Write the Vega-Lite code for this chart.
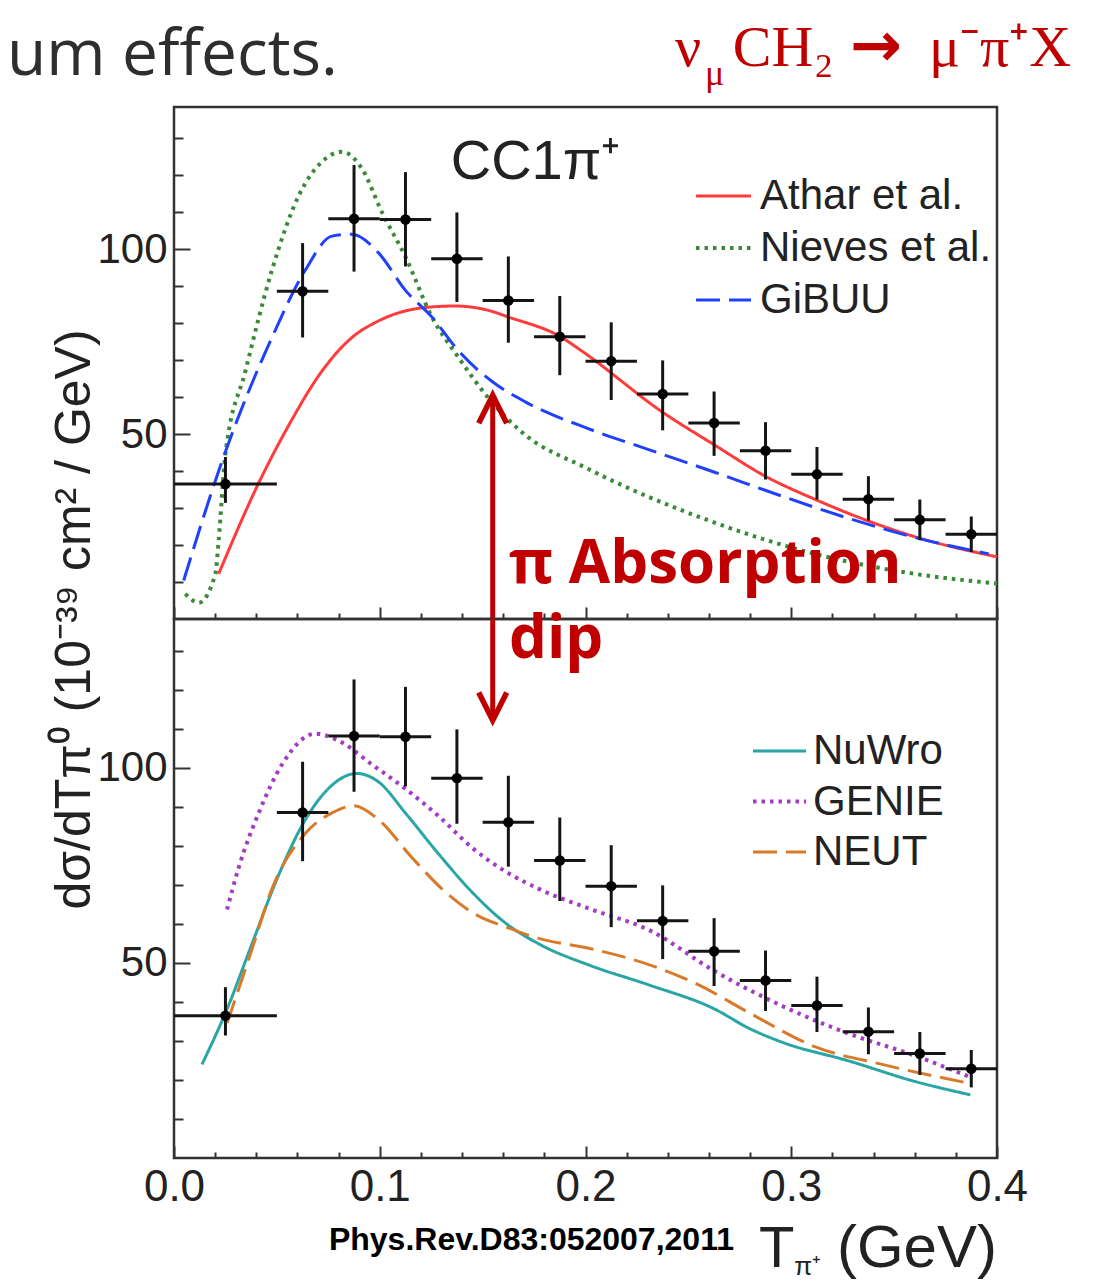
{
  "$schema": "https://vega.github.io/schema/vega-lite/v6.json",
  "padding": {"left": 5, "top": 14, "right": 0, "bottom": 0},
  "background": "white",
  "spacing": 0,
  "bounds": "flush",
  "config": {
    "view": {"stroke": "#333", "strokeWidth": 2.5},
    "axis": {"domain": false, "grid": false, "labelFont": "Liberation Sans", "labelColor": "#222", "tickColor": "#333", "tickWidth": 2, "labelOverlap": false, "labelFlush": false},
    "text": {"font": "Liberation Sans"}
  },
  "datasets": {
    "points": [
      {"T": 0.025, "xsec": 36.5, "lo": 31.4, "hi": 43.8, "Tlo": 0.0, "Thi": 0.05},
      {"T": 0.0625, "xsec": 88.6, "lo": 76.1, "hi": 101.6, "Tlo": 0.05, "Thi": 0.075},
      {"T": 0.0875, "xsec": 108.2, "lo": 93.9, "hi": 122.7, "Tlo": 0.075, "Thi": 0.1},
      {"T": 0.1125, "xsec": 108.0, "lo": 95.3, "hi": 120.8, "Tlo": 0.1, "Thi": 0.125},
      {"T": 0.1375, "xsec": 97.4, "lo": 85.7, "hi": 109.9, "Tlo": 0.125, "Thi": 0.15},
      {"T": 0.1625, "xsec": 86.1, "lo": 74.7, "hi": 98.0, "Tlo": 0.15, "Thi": 0.175},
      {"T": 0.1875, "xsec": 76.3, "lo": 65.9, "hi": 87.3, "Tlo": 0.175, "Thi": 0.2},
      {"T": 0.2125, "xsec": 69.7, "lo": 59.2, "hi": 80.2, "Tlo": 0.2, "Thi": 0.225},
      {"T": 0.2375, "xsec": 60.8, "lo": 51.0, "hi": 69.9, "Tlo": 0.225, "Thi": 0.25},
      {"T": 0.2625, "xsec": 53.0, "lo": 44.1, "hi": 61.5, "Tlo": 0.25, "Thi": 0.275},
      {"T": 0.2875, "xsec": 45.5, "lo": 37.7, "hi": 53.2, "Tlo": 0.275, "Thi": 0.3},
      {"T": 0.3125, "xsec": 39.1, "lo": 32.3, "hi": 46.5, "Tlo": 0.3, "Thi": 0.325},
      {"T": 0.3375, "xsec": 32.4, "lo": 26.6, "hi": 38.6, "Tlo": 0.325, "Thi": 0.35},
      {"T": 0.3625, "xsec": 26.8, "lo": 21.3, "hi": 32.3, "Tlo": 0.35, "Thi": 0.375},
      {"T": 0.3875, "xsec": 22.9, "lo": 18.1, "hi": 27.7, "Tlo": 0.375, "Thi": 0.4}
    ],
    "top_curves": [
      {"model": "Athar et al.", "T": 0.0217, "xsec": 12.2},
      {"model": "Athar et al.", "T": 0.0412, "xsec": 36.8},
      {"model": "Athar et al.", "T": 0.0557, "xsec": 52.3},
      {"model": "Athar et al.", "T": 0.0719, "xsec": 67.0},
      {"model": "Athar et al.", "T": 0.0865, "xsec": 76.1},
      {"model": "Athar et al.", "T": 0.0995, "xsec": 80.6},
      {"model": "Athar et al.", "T": 0.1238, "xsec": 84.3},
      {"model": "Athar et al.", "T": 0.1367, "xsec": 84.6},
      {"model": "Athar et al.", "T": 0.153, "xsec": 83.4},
      {"model": "Athar et al.", "T": 0.1627, "xsec": 81.6},
      {"model": "Athar et al.", "T": 0.1878, "xsec": 76.3},
      {"model": "Athar et al.", "T": 0.1983, "xsec": 72.4},
      {"model": "Athar et al.", "T": 0.2372, "xsec": 56.0},
      {"model": "Athar et al.", "T": 0.2631, "xsec": 46.9},
      {"model": "Athar et al.", "T": 0.2874, "xsec": 38.6},
      {"model": "Athar et al.", "T": 0.3117, "xsec": 32.3},
      {"model": "Athar et al.", "T": 0.336, "xsec": 26.8},
      {"model": "Athar et al.", "T": 0.3603, "xsec": 22.2},
      {"model": "Athar et al.", "T": 0.4, "xsec": 16.8},
      {"model": "Nieves et al.", "T": 0.0055, "xsec": 6.8},
      {"model": "Nieves et al.", "T": 0.012, "xsec": 4.4},
      {"model": "Nieves et al.", "T": 0.0201, "xsec": 12.2},
      {"model": "Nieves et al.", "T": 0.0217, "xsec": 21.2},
      {"model": "Nieves et al.", "T": 0.0249, "xsec": 44.1},
      {"model": "Nieves et al.", "T": 0.0347, "xsec": 67.0},
      {"model": "Nieves et al.", "T": 0.0476, "xsec": 94.3},
      {"model": "Nieves et al.", "T": 0.0606, "xsec": 114.4},
      {"model": "Nieves et al.", "T": 0.0719, "xsec": 123.6},
      {"model": "Nieves et al.", "T": 0.0817, "xsec": 126.3},
      {"model": "Nieves et al.", "T": 0.0914, "xsec": 121.7},
      {"model": "Nieves et al.", "T": 0.1011, "xsec": 109.9},
      {"model": "Nieves et al.", "T": 0.1124, "xsec": 98.0},
      {"model": "Nieves et al.", "T": 0.1254, "xsec": 81.6},
      {"model": "Nieves et al.", "T": 0.1384, "xsec": 70.6},
      {"model": "Nieves et al.", "T": 0.153, "xsec": 59.6},
      {"model": "Nieves et al.", "T": 0.1691, "xsec": 50.5},
      {"model": "Nieves et al.", "T": 0.2016, "xsec": 40.5},
      {"model": "Nieves et al.", "T": 0.263, "xsec": 26.0},
      {"model": "Nieves et al.", "T": 0.3115, "xsec": 17.6},
      {"model": "Nieves et al.", "T": 0.36, "xsec": 12.2},
      {"model": "Nieves et al.", "T": 0.4, "xsec": 9.6},
      {"model": "GiBUU", "T": 0.0047, "xsec": 10.4},
      {"model": "GiBUU", "T": 0.0249, "xsec": 45.1},
      {"model": "GiBUU", "T": 0.0476, "xsec": 76.1},
      {"model": "GiBUU", "T": 0.0638, "xsec": 94.3},
      {"model": "GiBUU", "T": 0.0768, "xsec": 103.5},
      {"model": "GiBUU", "T": 0.0865, "xsec": 104.0},
      {"model": "GiBUU", "T": 0.0995, "xsec": 98.9},
      {"model": "GiBUU", "T": 0.1124, "xsec": 88.9},
      {"model": "GiBUU", "T": 0.1254, "xsec": 81.6},
      {"model": "GiBUU", "T": 0.1384, "xsec": 72.4},
      {"model": "GiBUU", "T": 0.1546, "xsec": 64.2},
      {"model": "GiBUU", "T": 0.1707, "xsec": 58.7},
      {"model": "GiBUU", "T": 0.2016, "xsec": 51.4},
      {"model": "GiBUU", "T": 0.2307, "xsec": 45.8},
      {"model": "GiBUU", "T": 0.2631, "xsec": 39.6},
      {"model": "GiBUU", "T": 0.2955, "xsec": 33.2},
      {"model": "GiBUU", "T": 0.3279, "xsec": 27.2},
      {"model": "GiBUU", "T": 0.3603, "xsec": 22.0},
      {"model": "GiBUU", "T": 0.396, "xsec": 17.6}
    ],
    "bottom_curves": [
      {"model": "NuWro", "T": 0.0136, "xsec": 24.0},
      {"model": "NuWro", "T": 0.0258, "xsec": 38.2},
      {"model": "NuWro", "T": 0.0379, "xsec": 54.9},
      {"model": "NuWro", "T": 0.0509, "xsec": 72.6},
      {"model": "NuWro", "T": 0.0638, "xsec": 86.7},
      {"model": "NuWro", "T": 0.0768, "xsec": 95.6},
      {"model": "NuWro", "T": 0.0889, "xsec": 98.6},
      {"model": "NuWro", "T": 0.0995, "xsec": 96.4},
      {"model": "NuWro", "T": 0.1124, "xsec": 88.5},
      {"model": "NuWro", "T": 0.1287, "xsec": 77.9},
      {"model": "NuWro", "T": 0.1448, "xsec": 68.2},
      {"model": "NuWro", "T": 0.161, "xsec": 60.3},
      {"model": "NuWro", "T": 0.1773, "xsec": 54.9},
      {"model": "NuWro", "T": 0.2031, "xsec": 49.2},
      {"model": "NuWro", "T": 0.2307, "xsec": 44.4},
      {"model": "NuWro", "T": 0.2631, "xsec": 38.1},
      {"model": "NuWro", "T": 0.2793, "xsec": 33.3},
      {"model": "NuWro", "T": 0.2955, "xsec": 29.7},
      {"model": "NuWro", "T": 0.3279, "xsec": 24.9},
      {"model": "NuWro", "T": 0.3603, "xsec": 19.6},
      {"model": "NuWro", "T": 0.387, "xsec": 16.2},
      {"model": "GENIE", "T": 0.0258, "xsec": 63.7},
      {"model": "GENIE", "T": 0.0314, "xsec": 74.4},
      {"model": "GENIE", "T": 0.0412, "xsec": 88.5},
      {"model": "GENIE", "T": 0.0525, "xsec": 100.9},
      {"model": "GENIE", "T": 0.0687, "xsec": 108.8},
      {"model": "GENIE", "T": 0.08, "xsec": 107.0},
      {"model": "GENIE", "T": 0.0962, "xsec": 100.9},
      {"model": "GENIE", "T": 0.1124, "xsec": 94.7},
      {"model": "GENIE", "T": 0.1287, "xsec": 87.6},
      {"model": "GENIE", "T": 0.1448, "xsec": 79.6},
      {"model": "GENIE", "T": 0.161, "xsec": 73.5},
      {"model": "GENIE", "T": 0.1773, "xsec": 69.0},
      {"model": "GENIE", "T": 0.2031, "xsec": 63.7},
      {"model": "GENIE", "T": 0.2307, "xsec": 58.5},
      {"model": "GENIE", "T": 0.2631, "xsec": 47.8},
      {"model": "GENIE", "T": 0.2955, "xsec": 39.0},
      {"model": "GENIE", "T": 0.3279, "xsec": 31.9},
      {"model": "GENIE", "T": 0.3603, "xsec": 26.2},
      {"model": "GENIE", "T": 0.3862, "xsec": 20.9},
      {"model": "NEUT", "T": 0.0258, "xsec": 34.6},
      {"model": "NEUT", "T": 0.0379, "xsec": 53.5},
      {"model": "NEUT", "T": 0.0476, "xsec": 69.0},
      {"model": "NEUT", "T": 0.0638, "xsec": 83.2},
      {"model": "NEUT", "T": 0.0768, "xsec": 88.5},
      {"model": "NEUT", "T": 0.0873, "xsec": 90.3},
      {"model": "NEUT", "T": 0.0995, "xsec": 86.7},
      {"model": "NEUT", "T": 0.1157, "xsec": 77.0},
      {"model": "NEUT", "T": 0.1319, "xsec": 68.2},
      {"model": "NEUT", "T": 0.1481, "xsec": 62.0},
      {"model": "NEUT", "T": 0.161, "xsec": 59.3},
      {"model": "NEUT", "T": 0.1773, "xsec": 56.3},
      {"model": "NEUT", "T": 0.2031, "xsec": 53.6},
      {"model": "NEUT", "T": 0.2307, "xsec": 49.6},
      {"model": "NEUT", "T": 0.255, "xsec": 44.4},
      {"model": "NEUT", "T": 0.2793, "xsec": 37.3},
      {"model": "NEUT", "T": 0.3117, "xsec": 28.5},
      {"model": "NEUT", "T": 0.3441, "xsec": 24.0},
      {"model": "NEUT", "T": 0.3862, "xsec": 19.2}
    ]
  },
  "vconcat": [
    {
      "width": 823,
      "height": 512,
      "layer": [
        {
          "data": {"name": "top_curves"},
          "mark": {"type": "line", "interpolate": "monotone"},
          "encoding": {
            "x": {"field": "T", "type": "quantitative", "scale": {"domain": [0, 0.4], "nice": false, "zero": false},
              "axis": {"title": null, "labels": false, "values": [0,0.02,0.04,0.06,0.08,0.1,0.12,0.14,0.16,0.18,0.2,0.22,0.24,0.26,0.28,0.3,0.32,0.34,0.36,0.38,0.4],
                "tickSize": {"condition": {"test": "abs(datum.value*10 - round(datum.value*10)) < 0.001", "value": -12}, "value": -6}}},
            "y": {"field": "xsec", "type": "quantitative", "scale": {"domain": [0, 138.4], "nice": false, "zero": false},
              "axis": {"values": [10,20,30,40,50,60,70,80,90,100,110,120,130],
                "labelExpr": "datum.value % 50 === 0 ? format(datum.value, 'd') : ''",
                "tickSize": {"condition": {"test": "datum.value % 50 === 0", "value": -16}, "value": -9},
                "labelPadding": 23, "labelFontSize": 42,
                "title": "dσ/dTπ⁰ (10⁻³⁹ cm² / GeV)", "titleX": -100, "titleY": 512, "titleAngle": 270,
                "titleAlign": "center", "titleBaseline": "middle", "titleFont": "Liberation Sans", "titleFontSize": 50,
                "titleFontWeight": "normal", "titleColor": "#222"}},
            "color": {"field": "model", "type": "nominal",
              "scale": {"domain": ["Athar et al.", "Nieves et al.", "GiBUU"], "range": ["#FF3B3B", "#3A8A3A", "#2040FF"]},
              "legend": {"title": null, "orient": "none", "legendX": 520, "legendY": 60, "direction": "vertical", "padding": 0,
                "labelFont": "Liberation Sans", "labelFontSize": 42, "labelColor": "#222", "labelOffset": 7, "labelLimit": 500,
                "symbolType": "stroke", "symbolSize": 3025, "symbolStrokeWidth": 3.5, "rowPadding": 1.5}},
            "strokeDash": {"field": "model", "type": "nominal",
              "scale": {"domain": ["Athar et al.", "Nieves et al.", "GiBUU"], "range": [[1, 0], [3.5, 5], [24, 9]]},
              "legend": {"title": null, "orient": "none", "legendX": 520, "legendY": 60, "direction": "vertical", "padding": 0,
                "labelFont": "Liberation Sans", "labelFontSize": 42, "labelColor": "#222", "labelOffset": 7, "labelLimit": 500,
                "symbolType": "stroke", "symbolSize": 3025, "symbolStrokeWidth": 3.5, "rowPadding": 1.5}},
            "strokeWidth": {"field": "model", "type": "nominal",
              "scale": {"type": "ordinal", "domain": ["Athar et al.", "Nieves et al.", "GiBUU"], "range": [3, 4, 3]}, "legend": null}
          }
        },
        {
          "data": {"name": "points"},
          "mark": {"type": "rule", "color": "#151515", "strokeWidth": 3},
          "encoding": {"x": {"field": "T", "type": "quantitative"}, "y": {"field": "lo", "type": "quantitative"}, "y2": {"field": "hi"}}
        },
        {
          "data": {"name": "points"},
          "mark": {"type": "rule", "color": "#151515", "strokeWidth": 3},
          "encoding": {"x": {"field": "Tlo", "type": "quantitative"}, "x2": {"field": "Thi"}, "y": {"field": "xsec", "type": "quantitative"}}
        },
        {
          "data": {"name": "points"},
          "mark": {"type": "point", "filled": true, "color": "#000", "size": 110, "opacity": 1},
          "encoding": {"x": {"field": "T", "type": "quantitative"}, "y": {"field": "xsec", "type": "quantitative"}}
        },
        {
          "data": {"values": [{}]},
          "mark": {"type": "text", "text": "CC1π⁺", "font": "Liberation Sans", "fontSize": 56, "color": "#222", "align": "left", "baseline": "alphabetic"},
          "encoding": {"x": {"datum": 0.1345, "type": "quantitative"}, "y": {"datum": 118.9, "type": "quantitative"}}
        },
        {
          "data": {"values": [{}]},
          "mark": {"type": "text", "text": "um effects.", "font": "Open Sans", "fontSize": 64, "color": "#2e2e2e", "align": "left", "baseline": "alphabetic"},
          "encoding": {"x": {"datum": -0.0812, "type": "quantitative"}, "y": {"datum": 147.0, "type": "quantitative"}}
        },
        {
          "data": {"values": [{}]},
          "mark": {"type": "text", "text": "ν", "font": "Liberation Serif", "fontSize": 58, "color": "#C00000", "align": "left", "baseline": "alphabetic"},
          "encoding": {"x": {"datum": 0.2435, "type": "quantitative"}, "y": {"datum": 149.5, "type": "quantitative"}}
        },
        {
          "data": {"values": [{}]},
          "mark": {"type": "text", "text": "μ", "font": "Liberation Serif", "fontSize": 36, "color": "#C00000", "align": "left", "baseline": "alphabetic"},
          "encoding": {"x": {"datum": 0.2581, "type": "quantitative"}, "y": {"datum": 144.3, "type": "quantitative"}}
        },
        {
          "data": {"values": [{}]},
          "mark": {"type": "text", "text": "CH₂", "font": "Liberation Serif", "fontSize": 58, "color": "#C00000", "align": "left", "baseline": "alphabetic"},
          "encoding": {"x": {"datum": 0.2716, "type": "quantitative"}, "y": {"datum": 149.5, "type": "quantitative"}}
        },
        {
          "data": {"values": [{}]},
          "mark": {"type": "text", "text": "→", "font": "DejaVu Sans", "fontWeight": "bold", "fontSize": 62, "color": "#C00000", "align": "left", "baseline": "alphabetic"},
          "encoding": {"x": {"datum": 0.3285, "type": "quantitative"}, "y": {"datum": 149.5, "type": "quantitative"}}
        },
        {
          "data": {"values": [{}]},
          "mark": {"type": "text", "text": "μ⁻π⁺X", "font": "Liberation Serif", "fontSize": 58, "color": "#C00000", "align": "left", "baseline": "alphabetic"},
          "encoding": {"x": {"datum": 0.3669, "type": "quantitative"}, "y": {"datum": 149.5, "type": "quantitative"}}
        },
        {
          "data": {"values": [{}]},
          "mark": {"type": "text", "text": "π Absorption", "font": "Open Sans", "fontWeight": "bold", "fontSize": 60, "color": "#C00000", "align": "left", "baseline": "alphabetic"},
          "encoding": {"x": {"datum": 0.1628, "type": "quantitative"}, "y": {"datum": 9.73, "type": "quantitative"}}
        },
        {
          "data": {"values": [{}]},
          "mark": {"type": "rule", "color": "#C00000", "strokeWidth": 5},
          "encoding": {"x": {"datum": 0.1549, "type": "quantitative"}, "y": {"datum": 59.5, "type": "quantitative"}, "y2": {"datum": 0}}
        },
        {
          "data": {"values": [{}]},
          "mark": {"type": "point", "shape": "M-1,2L0,0L1,2", "size": 784, "filled": false, "stroke": "#C00000", "strokeWidth": 5.5, "opacity": 1},
          "encoding": {"x": {"datum": 0.1549, "type": "quantitative"}, "y": {"datum": 60.5, "type": "quantitative"}}
        }
      ]
    },
    {
      "width": 823,
      "height": 539,
      "layer": [
        {
          "data": {"name": "bottom_curves"},
          "mark": {"type": "line", "interpolate": "monotone"},
          "encoding": {
            "x": {"field": "T", "type": "quantitative", "scale": {"domain": [0, 0.4], "nice": false, "zero": false},
              "axis": {"title": null, "values": [0,0.02,0.04,0.06,0.08,0.1,0.12,0.14,0.16,0.18,0.2,0.22,0.24,0.26,0.28,0.3,0.32,0.34,0.36,0.38,0.4],
                "labelExpr": "abs(datum.value*10 - round(datum.value*10)) < 0.001 ? format(datum.value, '.1f') : ''",
                "labelFontSize": 44, "labelPadding": 19,
                "tickSize": {"condition": {"test": "abs(datum.value*10 - round(datum.value*10)) < 0.001", "value": -12}, "value": -6}}},
            "y": {"field": "xsec", "type": "quantitative", "scale": {"domain": [0, 138.2], "nice": false, "zero": false},
              "axis": {"values": [10,20,30,40,50,60,70,80,90,100,110,120,130],
                "labelExpr": "datum.value % 50 === 0 ? format(datum.value, 'd') : ''",
                "tickSize": {"condition": {"test": "datum.value % 50 === 0", "value": -16}, "value": -9},
                "labelPadding": 23, "labelFontSize": 42, "title": null}},
            "color": {"field": "model", "type": "nominal",
              "scale": {"domain": ["NuWro", "GENIE", "NEUT"], "range": ["#2AA5A5", "#A23CC4", "#D97A2B"]},
              "legend": {"title": null, "orient": "none", "legendX": 577, "legendY": 104, "direction": "vertical", "padding": 0,
                "labelFont": "Liberation Sans", "labelFontSize": 42, "labelColor": "#222", "labelOffset": 5, "labelLimit": 500,
                "symbolType": "stroke", "symbolSize": 2809, "symbolStrokeWidth": 3.5, "rowPadding": 1}},
            "strokeDash": {"field": "model", "type": "nominal",
              "scale": {"domain": ["NuWro", "GENIE", "NEUT"], "range": [[1, 0], [3.5, 5], [24, 9]]},
              "legend": {"title": null, "orient": "none", "legendX": 577, "legendY": 104, "direction": "vertical", "padding": 0,
                "labelFont": "Liberation Sans", "labelFontSize": 42, "labelColor": "#222", "labelOffset": 5, "labelLimit": 500,
                "symbolType": "stroke", "symbolSize": 2809, "symbolStrokeWidth": 3.5, "rowPadding": 1}},
            "strokeWidth": {"field": "model", "type": "nominal",
              "scale": {"type": "ordinal", "domain": ["NuWro", "GENIE", "NEUT"], "range": [3, 4, 3]}, "legend": null}
          }
        },
        {
          "data": {"name": "points"},
          "mark": {"type": "rule", "color": "#151515", "strokeWidth": 3},
          "encoding": {"x": {"field": "T", "type": "quantitative"}, "y": {"field": "lo", "type": "quantitative"}, "y2": {"field": "hi"}}
        },
        {
          "data": {"name": "points"},
          "mark": {"type": "rule", "color": "#151515", "strokeWidth": 3},
          "encoding": {"x": {"field": "Tlo", "type": "quantitative"}, "x2": {"field": "Thi"}, "y": {"field": "xsec", "type": "quantitative"}}
        },
        {
          "data": {"name": "points"},
          "mark": {"type": "point", "filled": true, "color": "#000", "size": 110, "opacity": 1},
          "encoding": {"x": {"field": "T", "type": "quantitative"}, "y": {"field": "xsec", "type": "quantitative"}}
        },
        {
          "data": {"values": [{}]},
          "mark": {"type": "text", "text": "dip", "font": "Open Sans", "fontWeight": "bold", "fontSize": 60, "color": "#C00000", "align": "left", "baseline": "alphabetic"},
          "encoding": {"x": {"datum": 0.1628, "type": "quantitative"}, "y": {"datum": 128.2, "type": "quantitative"}}
        },
        {
          "data": {"values": [{}]},
          "mark": {"type": "rule", "color": "#C00000", "strokeWidth": 5},
          "encoding": {"x": {"datum": 0.1549, "type": "quantitative"}, "y": {"datum": 113.2, "type": "quantitative"}, "y2": {"datum": 138.2}}
        },
        {
          "data": {"values": [{}]},
          "mark": {"type": "point", "shape": "M-1,-2L0,0L1,-2", "size": 784, "filled": false, "stroke": "#C00000", "strokeWidth": 5.5, "opacity": 1},
          "encoding": {"x": {"datum": 0.1549, "type": "quantitative"}, "y": {"datum": 112.2, "type": "quantitative"}}
        },
        {
          "data": {"values": [{}]},
          "mark": {"type": "text", "text": "T", "font": "Liberation Sans", "fontSize": 58, "color": "#222", "align": "left", "baseline": "alphabetic"},
          "encoding": {"x": {"datum": 0.2843, "type": "quantitative"}, "y": {"datum": -27.9, "type": "quantitative"}}
        },
        {
          "data": {"values": [{}]},
          "mark": {"type": "text", "text": "π⁺", "font": "Liberation Sans", "fontSize": 26, "color": "#222", "align": "left", "baseline": "alphabetic"},
          "encoding": {"x": {"datum": 0.3014, "type": "quantitative"}, "y": {"datum": -30.0, "type": "quantitative"}}
        },
        {
          "data": {"values": [{}]},
          "mark": {"type": "text", "text": "(GeV)", "font": "Liberation Sans", "fontSize": 60, "color": "#222", "align": "right", "baseline": "alphabetic"},
          "encoding": {"x": {"datum": 0.4, "type": "quantitative"}, "y": {"datum": -27.9, "type": "quantitative"}}
        },
        {
          "data": {"values": [{}]},
          "mark": {"type": "text", "text": "Phys.Rev.D83:052007,2011", "font": "Liberation Sans", "fontWeight": "bold", "fontSize": 32, "color": "#000", "align": "left", "baseline": "alphabetic"},
          "encoding": {"x": {"datum": 0.0753, "type": "quantitative"}, "y": {"datum": -23.6, "type": "quantitative"}}
        }
      ]
    }
  ],
  "resolve": {
    "scale": {"color": "independent", "strokeDash": "independent", "strokeWidth": "independent"},
    "legend": {"color": "independent", "strokeDash": "independent"}
  }
}
